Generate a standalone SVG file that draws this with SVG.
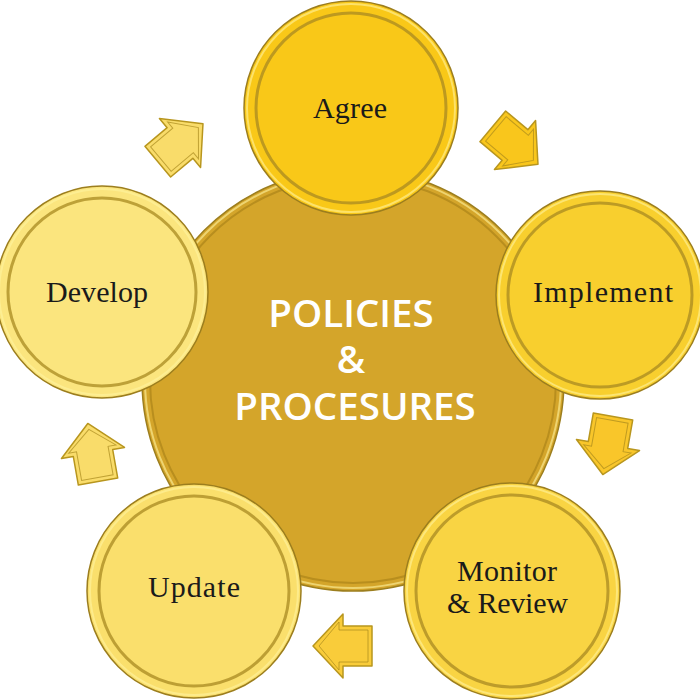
<svg xmlns="http://www.w3.org/2000/svg" width="700" height="700" viewBox="0 0 700 700">
<defs>
<style>
.rim{stroke:#9C7E1E;stroke-width:1.5}
.ring{fill:none;stroke:#A88A22;stroke-width:3;stroke-opacity:0.75}
.hl{fill:none;stroke:#FFF3A0;stroke-width:2;stroke-opacity:0.6}
.lbl{font-family:"Liberation Serif","DejaVu Serif",serif;font-size:30px;fill:#1a1a1a;text-anchor:middle}
.ctr{font-family:"Open Sans","Liberation Sans",sans-serif;font-weight:600;font-size:38.5px;fill:#ffffff;text-anchor:middle}
.arw{stroke:#B8961E;stroke-width:1.5;stroke-linejoin:round}
.arwin{fill:none;stroke:#A8891C;stroke-width:1;stroke-opacity:0.7}
</style>
<path id="arrow" d="M -29,-20 L 0,-20 L 0,-32 L 30,0 L 0,32 L 0,20 L -29,20 Z"/>
<path id="arrowIn" d="M -25,-16 L 4,-16 L 4,-24 L 24,0 L 4,24 L 4,16 L -25,16 Z"/>
</defs>
<rect width="700" height="700" fill="#ffffff"/>

<g id="center">
<circle cx="353" cy="380" r="211" fill="#D4A52A" class="rim"/>
<circle cx="353" cy="380" r="203" fill="none" stroke="#B88E1E" stroke-width="2"/>
<circle cx="353" cy="380" r="208" class="hl" stroke-opacity="0.35"/>
<text class="ctr" x="351" y="327">POLICIES</text>
<text class="ctr" x="351" y="373">&amp;</text>
<text class="ctr" x="355" y="420">PROCESURES</text>
</g>

<g id="connectors">
<g transform="translate(180,143) rotate(-40)"><use href="#arrow" fill="#F9DC6A" class="arw"/><use href="#arrowIn" class="arwin"/></g>
<g transform="translate(515,145) rotate(40)"><use href="#arrow" fill="#F9C61C" class="arw"/><use href="#arrowIn" class="arwin"/></g>
<g transform="translate(608,445) rotate(100)"><use href="#arrow" fill="#F9C62A" class="arw"/><use href="#arrowIn" class="arwin"/></g>
<g transform="translate(343,646) rotate(180)"><use href="#arrow" fill="#F9CC3A" class="arw"/><use href="#arrowIn" class="arwin"/></g>
<g transform="translate(93,453) rotate(-100)"><use href="#arrow" fill="#F9DC6A" class="arw"/><use href="#arrowIn" class="arwin"/></g>
</g>

<g id="agree">
<circle cx="351" cy="108" r="107" fill="#F9C818" class="rim"/>
<circle cx="351" cy="108" r="104" class="hl"/>
<circle cx="351" cy="108" r="95" class="ring"/>
<text class="lbl" x="350" y="118" textLength="74" lengthAdjust="spacing">Agree</text>
</g>

<g id="implement">
<circle cx="600" cy="295" r="104" fill="#F8CF2E" class="rim"/>
<circle cx="600" cy="295" r="101" class="hl"/>
<circle cx="600" cy="295" r="92" class="ring"/>
<text class="lbl" x="603" y="302" textLength="140" lengthAdjust="spacing">Implement</text>
</g>

<g id="monitor">
<circle cx="512" cy="591" r="108" fill="#F9D443" class="rim"/>
<circle cx="512" cy="591" r="105" class="hl"/>
<circle cx="512" cy="591" r="96" class="ring"/>
<text class="lbl" x="507" y="581" textLength="100" lengthAdjust="spacing">Monitor</text>
<text class="lbl" x="507.5" y="613" textLength="121" lengthAdjust="spacing">&amp; Review</text>
</g>

<g id="update">
<circle cx="194" cy="591" r="107" fill="#FADF6C" class="rim"/>
<circle cx="194" cy="591" r="104" class="hl"/>
<circle cx="194" cy="591" r="95" class="ring"/>
<text class="lbl" x="194" y="597" textLength="92" lengthAdjust="spacing">Update</text>
</g>

<g id="develop">
<circle cx="102" cy="292" r="106" fill="#FBE57E" class="rim"/>
<circle cx="102" cy="292" r="103" class="hl"/>
<circle cx="102" cy="292" r="94" class="ring"/>
<text class="lbl" x="97" y="302" textLength="102" lengthAdjust="spacing">Develop</text>
</g>
</svg>
